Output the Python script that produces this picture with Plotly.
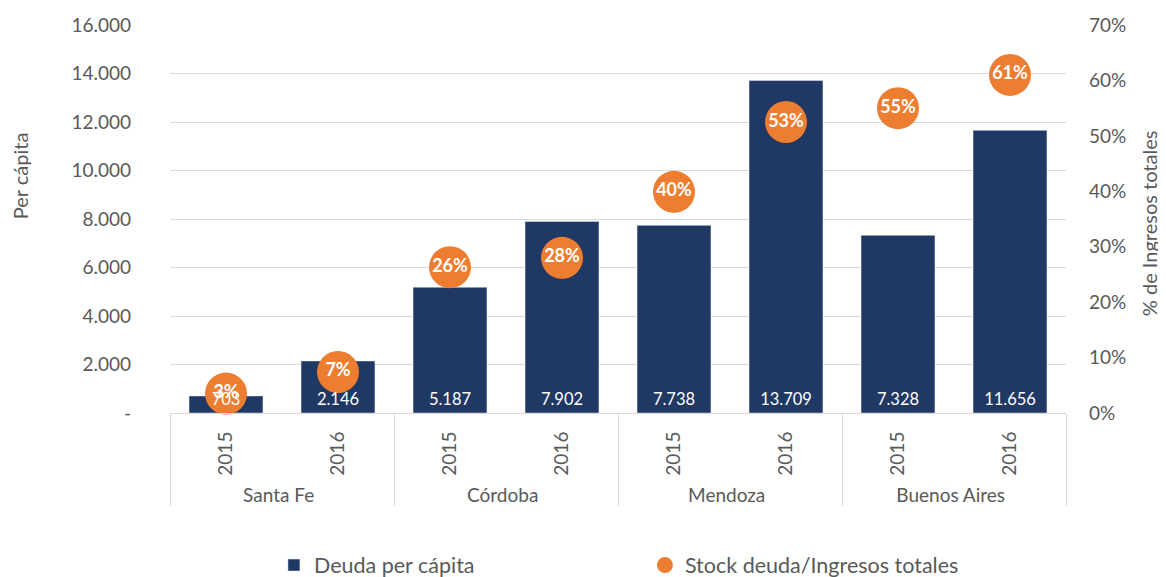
import plotly.graph_objects as go

provinces = ["Santa Fe", "Santa Fe", "Córdoba", "Córdoba", "Mendoza", "Mendoza", "Buenos Aires", "Buenos Aires"]
years = ["2015", "2016", "2015", "2016", "2015", "2016", "2015", "2016"]
deuda_per_capita = [703, 2146, 5187, 7902, 7738, 13709, 7328, 11656]
stock_ratio = [0.035, 0.074, 0.263, 0.28, 0.399, 0.525, 0.55, 0.61]
ratio_labels = ["3%", "7%", "26%", "28%", "40%", "53%", "55%", "61%"]
left_ticks = [0, 2000, 4000, 6000, 8000, 10000, 12000, 14000, 16000]
left_ticktext = ["-", "2.000", "4.000", "6.000", "8.000", "10.000", "12.000", "14.000", "16.000"]

FONT = "Lato"
GREY = "#595959"

def fmt(v):
    return f"{v:,}".replace(",", ".")

fig = go.Figure()
fig.add_trace(go.Bar(
    x=[provinces, years], y=deuda_per_capita, name="Deuda per cápita",
    marker_color="#203864", width=0.66,
))
fig.add_trace(go.Scatter(
    x=[provinces, years], y=stock_ratio, name="Stock deuda/Ingresos totales",
    mode="markers+text", yaxis="y2",
    marker=dict(color="#ED7D31", size=42),
    text=ratio_labels, textposition="middle center",
    textfont=dict(color="white", size=18, family=FONT, weight="bold"),
    cliponaxis=False,
))
# bar value labels drawn on a top layer (like Excel data labels)
fig.add_trace(go.Scatter(
    x=[provinces, years], y=[0] * len(deuda_per_capita), yaxis="y3",
    mode="text", text=[fmt(v) for v in deuda_per_capita], textposition="top center",
    textfont=dict(color="white", size=16.5, family=FONT),
    showlegend=False, hoverinfo="skip", cliponaxis=False,
))

fig.update_layout(
    width=1158, height=569,
    margin=dict(l=162, r=100, t=17, b=164, autoexpand=False),
    plot_bgcolor="white", paper_bgcolor="white",
    font=dict(family=FONT, color=GREY, size=19),
    showlegend=True,
    legend=dict(orientation="h", x=0.116, xanchor="left", y=-0.392, yanchor="middle",
                font=dict(size=21.5, color=GREY), entrywidth=326, itemwidth=30),
    xaxis=dict(type="multicategory", range=[-0.5, 7.5], tickangle=-90, showline=True,
               linecolor="#D9D9D9", showdividers=True, dividercolor="#D9D9D9", dividerwidth=1,
               tickfont=dict(size=19, color=GREY), automargin=False,
               ticklabelstandoff=10),
    yaxis=dict(range=[0, 16000], tickvals=left_ticks, ticktext=left_ticktext,
               showgrid=True, gridcolor="#D9D9D9", zeroline=False,
               ticklabelstandoff=38, automargin=False),
    yaxis2=dict(range=[0, 0.7], overlaying="y", side="right", tickformat=".0%",
                dtick=0.1, showgrid=False, zeroline=False,
                ticklabelstandoff=22, automargin=False),
    yaxis3=dict(range=[-170, 15830], overlaying="y", visible=False, automargin=False),
    annotations=[
        dict(text="Per cápita", xref="paper", yref="paper", x=-0.167, y=0.611,
             textangle=-90, showarrow=False, font=dict(size=20, color=GREY),
             xanchor="center", yanchor="middle"),
        dict(text="% de Ingresos totales", xref="paper", yref="paper", x=1.093, y=0.49,
             textangle=-90, showarrow=False, font=dict(size=20, color=GREY),
             xanchor="center", yanchor="middle"),
    ],
)

fig.write_html("out.html")
